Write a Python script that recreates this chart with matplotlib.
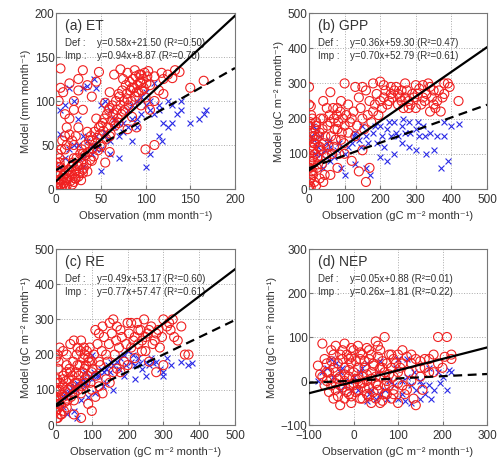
import matplotlib.pyplot as plt
import numpy as np

plt.rcParams['font.family'] = ['Liberation Sans', 'DejaVu Sans']

# ---- (a) ET ----
et_imp_x = [5, 30, 48, 65, 72, 80, 88, 95, 103, 110, 118, 125, 130, 133, 138,
            5, 15, 25, 35, 45, 60, 75, 85, 95, 105, 115, 120, 150, 165,
            20, 40, 55, 70, 80, 90, 100, 110, 120,
            10, 30, 45, 60, 65, 75, 85, 95, 105,
            15, 25, 35, 50, 60, 70, 80, 90,
            10, 20, 30, 40, 50, 60, 100, 110,
            5, 10, 15, 20, 25, 30, 40, 55,
            0, 2, 5, 8, 10, 12, 15, 20, 25, 30, 35, 3, 7, 18, 22, 28, 1, 4]
et_imp_y = [137, 135, 133, 130, 136, 132, 135, 130, 134, 128, 132, 130, 126, 135, 133,
            115, 120, 112, 118, 122, 110, 125, 115, 120, 118, 112, 125, 115, 123,
            100, 105, 98, 108, 102, 110, 104, 100, 108,
            85, 90, 80, 92, 75, 88, 82, 95, 90,
            62, 70, 65, 72, 60, 75, 68, 70,
            45, 50, 40, 55, 48, 42, 45, 50,
            25, 30, 20, 35, 28, 22, 32, 30,
            2, 8, 5, 12, 3, 10, 15, 8, 14, 18, 20, 15, 0, 5, 12, 10, 20, 30]
et_imp_more = [(2, 2), (3, 6), (5, 10), (6, 3), (8, 15), (9, 7), (11, 18), (12, 4), (13, 12), (14, 22),
               (16, 9), (17, 25), (18, 16), (19, 30), (21, 12), (22, 20), (23, 35), (24, 26), (26, 18),
               (27, 40), (28, 30), (29, 45), (31, 24), (32, 38), (33, 50), (34, 28), (36, 42), (37, 55),
               (38, 33), (39, 60), (41, 46), (42, 37), (43, 65), (44, 52), (46, 58), (47, 44), (48, 70),
               (49, 62), (51, 50), (52, 75), (53, 66), (54, 80), (56, 57), (57, 85), (58, 70), (59, 90),
               (61, 63), (62, 78), (63, 95), (64, 85), (66, 72), (67, 100), (68, 90), (69, 80), (71, 105),
               (72, 95), (73, 85), (74, 112), (76, 100), (77, 90), (78, 118), (79, 108), (81, 95), (82, 122),
               (83, 112), (84, 100), (86, 125), (87, 115), (88, 105), (89, 128), (91, 118), (92, 110),
               (93, 130), (94, 122), (96, 112), (97, 125), (98, 115), (99, 132), (101, 120), (102, 128),
               (1, 20), (3, 25), (4, 35), (6, 45), (7, 55), (2, 40), (0, 30), (1, 15), (10, 60), (12, 70),
               (15, 80), (20, 90), (8, 110), (3, 100), (25, 125), (12, 50), (18, 55), (22, 60)]
et_def_x = [5, 5, 10, 15, 30, 35, 42, 45, 20, 25, 50, 55, 60, 65, 70, 80, 85, 90, 95, 100,
            105, 110, 115, 120, 125, 130, 135, 140, 150, 165, 168, 160, 100, 105, 115, 118,
            60, 40, 20, 10, 5, 45, 30, 55, 75, 90, 85, 50, 30, 70, 130, 140, 125, 110]
et_def_y = [62, 90, 95, 115, 115, 117, 125, 115, 100, 80, 95, 100, 90, 80, 75, 90, 95, 100, 105, 110,
            100, 85, 90, 75, 70, 75, 85, 90, 75, 85, 90, 80, 25, 40, 60, 55,
            40, 50, 50, 35, 25, 45, 60, 60, 65, 70, 55, 20, 25, 35, 95, 100, 100, 120]
et_def_more = [(15, 45), (25, 50), (35, 55), (45, 60), (55, 65), (65, 70), (75, 75), (85, 80), (95, 85),
               (105, 90), (115, 95), (70, 60), (80, 70), (90, 80), (100, 95), (60, 55), (50, 45),
               (40, 40), (30, 35), (20, 30)]

# ---- (b) GPP ----
gpp_imp_x = [0, 5, 0, 40, 60, 80, 100, 130, 150, 160, 180, 200, 210, 230, 240, 250, 260, 270, 280,
             290, 300, 310, 320, 340, 350, 360, 380, 390, 395, 420, 370, 340, 300, 260, 220, 200,
             180, 150, 120, 100, 80, 60, 40, 20, 10, 30, 50, 70, 90, 110, 130, 150, 170, 160, 140,
             120, 100, 80, 60, 40, 20, 10, 0, 5, 15, 25, 0, 5, 30, 50, 70, 90, 110, 140, 170, 190,
             210, 230, 250, 280, 320, 350, 380, 330, 270]
gpp_imp_y = [290, 235, 240, 250, 275, 230, 300, 290, 290, 280, 300, 305, 295, 290, 280, 270, 280, 260, 250,
             270, 295, 285, 295, 290, 280, 250, 270, 300, 290, 250, 220, 220, 230, 250, 240, 250,
             220, 200, 200, 180, 170, 190, 200, 180, 150, 120, 100, 120, 140, 160, 150, 110, 60, 20, 50,
             80, 100, 60, 40, 20, 10, 50, 100, 80, 130, 70, 20, 5, 160, 230, 200, 250, 240, 260, 250, 270,
             260, 270, 240, 230, 260, 240, 300, 270, 300]
gpp_imp_more = [(2, 10), (4, 30), (6, 50), (8, 70), (10, 90), (12, 110), (14, 130), (16, 150), (18, 170),
                (20, 190), (3, 60), (5, 120), (7, 160), (9, 200), (11, 40), (13, 80), (15, 20), (17, 100),
                (19, 140), (22, 60), (24, 90), (26, 120), (28, 150), (30, 30), (32, 200), (34, 110),
                (36, 70), (38, 170), (42, 130), (44, 40), (46, 150), (48, 90), (52, 180), (55, 120),
                (58, 210), (62, 150), (65, 100), (68, 230), (72, 170), (75, 140), (78, 210), (82, 190),
                (85, 100), (88, 220), (92, 160), (95, 200), (98, 130), (105, 210), (115, 190), (125, 220),
                (135, 180), (145, 230), (155, 170), (165, 210), (175, 190), (185, 240), (195, 210),
                (205, 230), (215, 280), (225, 250), (235, 260), (245, 290), (255, 260), (265, 230),
                (275, 280), (285, 240), (295, 260), (305, 270), (315, 240), (325, 250), (335, 300),
                (345, 260), (355, 230), (365, 280), (375, 260), (0, 60), (0, 140), (0, 180), (1, 0),
                (3, 190), (6, 210)]
gpp_def_x = [10, 20, 30, 50, 60, 80, 100, 120, 140, 160, 180, 200, 220, 240, 260, 280, 300, 320, 340,
             360, 380, 400, 420, 280, 300, 330, 350, 380, 200, 220, 170, 160, 130, 100, 90, 60, 40, 20,
             250, 270, 310, 150, 190, 210, 240, 370, 390, 260, 230, 130]
gpp_def_y = [180, 170, 150, 130, 120, 110, 100, 130, 140, 150, 160, 180, 170, 190, 180, 190, 170, 180, 160,
             150, 190, 180, 185, 120, 110, 100, 110, 150, 90, 80, 40, 60, 70, 40, 60, 80, 60, 100,
             150, 160, 150, 180, 130, 120, 100, 60, 80, 130, 150, 160]
gpp_def_more = [(5, 150), (15, 140), (25, 120), (35, 100), (45, 110), (55, 140), (70, 90), (85, 130),
                (110, 120), (125, 150), (145, 120), (165, 130), (185, 180), (205, 150), (225, 190),
                (245, 160), (265, 200), (285, 160), (305, 190), (325, 150)]

# ---- (c) RE ----
re_imp_x = [0, 10, 20, 30, 40, 50, 60, 70, 80, 90, 100, 110, 120, 130, 150, 160, 170, 180, 200, 210,
            220, 230, 240, 250, 260, 280, 300, 310, 320, 330, 340, 350, 360, 370, 300, 280, 260, 240,
            220, 200, 180, 160, 140, 120, 100, 80, 60, 40, 20, 10, 0, 5, 15, 30, 50, 70, 90, 110, 130,
            150, 170, 190, 210, 230, 250, 270, 290, 60, 80, 100, 120, 140, 40, 20, 10, 30, 0, 50, 70, 100]
re_imp_y = [190, 220, 210, 200, 230, 240, 220, 240, 200, 190, 180, 270, 260, 280, 290, 300, 280, 270, 290, 290,
            250, 270, 240, 250, 270, 260, 300, 280, 270, 250, 240, 280, 200, 200, 170, 150, 180, 210,
            190, 170, 150, 150, 130, 110, 100, 130, 120, 100, 80, 60, 40, 20, 30, 50, 70, 90, 60, 80, 90,
            120, 160, 180, 220, 230, 210, 230, 220, 170, 160, 150, 180, 200, 150, 130, 100, 170, 80, 30, 20, 40]
re_imp_more = [(2, 20), (4, 45), (6, 70), (8, 95), (10, 120), (12, 30), (14, 55), (16, 85), (18, 110),
               (20, 140), (22, 40), (24, 65), (26, 95), (28, 125), (30, 150), (32, 70), (34, 100), (36, 130),
               (38, 160), (42, 80), (44, 110), (46, 140), (48, 180), (52, 90), (54, 120), (56, 150),
               (58, 200), (62, 100), (64, 140), (66, 170), (68, 210), (72, 110), (74, 150), (76, 190),
               (78, 220), (82, 120), (84, 170), (86, 210), (88, 140), (92, 180), (94, 220), (96, 120),
               (102, 160), (106, 200), (112, 140), (116, 230), (124, 170), (128, 210), (134, 250),
               (144, 180), (148, 230), (156, 260), (164, 200), (168, 240), (176, 220), (184, 250),
               (196, 230), (204, 260), (216, 240), (226, 290), (236, 270), (246, 300), (256, 260),
               (266, 280), (276, 240), (286, 270), (296, 250), (316, 290), (326, 300), (0, 60), (1, 100),
               (3, 130), (5, 160), (7, 180), (0, 120), (4, 200)]
re_def_x = [10, 20, 30, 40, 50, 60, 80, 100, 120, 140, 150, 160, 170, 180, 190, 200, 210, 220, 230, 240,
            250, 260, 270, 280, 290, 300, 310, 320, 350, 370, 380, 220, 250, 300, 160, 130, 110, 90, 70,
            50, 30, 20, 60, 100, 80, 140, 190]
re_def_y = [60, 80, 90, 100, 110, 120, 150, 130, 140, 160, 150, 170, 180, 190, 200, 210, 180, 170, 190, 160,
            180, 170, 175, 180, 160, 150, 190, 170, 180, 170, 175, 130, 140, 140, 100, 110, 90, 80, 70,
            40, 30, 50, 20, 200, 110, 120, 140]
re_def_more = [(15, 70), (25, 85), (35, 95), (45, 105), (55, 100), (65, 115), (75, 130), (85, 120),
               (95, 140), (105, 150), (115, 140), (125, 160), (135, 150), (145, 170), (155, 180),
               (175, 160), (195, 170), (215, 200), (235, 175), (265, 190)]

# ---- (d) NEP ----
nep_imp_x = [-80, -70, -60, -50, -40, -30, -20, -10, 0, 10, 20, 30, 40, 50, 60, 70, 80, 90, 100, 110,
             120, 130, 140, 150, 160, 180, 190, 210, 220, 220, 200, 170, 150, 130, 110, 90, 70, 60, 50,
             40, 30, 20, 10, 0, -10, -20, -30, -40, -50, -60, -70, -40, -30, -20, -10, 0, 10, 20, 30,
             40, 50, 60, 70, 80, 90, 100, 140, 120, 100, -20, -10, 5, 15, -5, 25, 45, 65, 85, -50, -35,
             -5, 35, 55, 75, 105, 125, 160, 180]
nep_imp_y = [35, 85, 40, 70, 80, 60, 85, 50, 70, 80, 60, 75, 60, 90, 70, 100, 60, 50, 60, 70,
             55, 40, 50, 45, 50, 60, 100, 100, 60, 50, 30, 20, 10, 0, -10, -20, -30, -50, -40,
             -50, -30, -40, -20, -10, -30, -40, -55, -20, -10, 0, 10, 20, 10, 0, 10, 20, 30, 10, 0,
             20, 10, 30, 20, -10, 10, -50, -55, -20, 20, 30, -10, 5, -5, 40, 45, 35, 45, 30, 45, -35,
             -50, -15, -20, 0, 30, 20, 30, 20]
nep_imp_more = [(-55, 20), (-45, 30), (-35, 40), (-25, 50), (-15, 60), (-5, 55), (5, 45), (15, 50),
                (25, 30), (35, 50), (45, 40), (55, 55), (65, 30), (75, 40), (85, 60), (95, 40), (-65, -10),
                (-55, -25), (-45, -40), (-35, 5), (-25, -15), (-15, -25), (-5, -35), (5, -25), (15, -40),
                (25, -15), (35, -35), (45, -25), (55, -10), (65, -45), (75, -30), (85, -40), (-60, 20),
                (-50, 5), (-40, -5), (-30, -10), (-20, 15), (-10, 25), (0, -5), (10, 5), (20, -5), (30, 15),
                (40, 5), (50, -5), (60, 10), (70, -10), (80, 15), (90, -30), (-45, 60), (-25, 70), (-5, 75),
                (15, 65), (35, 70), (55, 80), (110, 40), (130, 60), (150, 30), (170, 50), (190, 40),
                (205, 55), (-75, 15), (-65, 50), (115, -30), (135, -40), (155, -20), (100, -5)]
nep_def_x = [-80, -60, -50, -40, -30, -20, -10, 0, 10, 20, 30, 40, 50, 60, 70, 80, 90, 100, 110, 120,
             130, 140, 150, 160, 170, 180, 190, 200, 210, 220, 100, 120, 150, 170, 30, 60, -30, 130, 110]
nep_def_y = [0, 30, 50, 40, 20, -10, 0, 10, -20, 30, 40, -20, -40, -30, -20, 0, -10, -40, 0, 10,
             -50, -20, 0, -30, -10, -20, 20, 10, -20, 20, 50, 50, -40, 30, -45, 45, -20, -10, -30]
nep_def_more = [(-70, 20), (-45, 10), (-25, 30), (-5, -20), (15, 20), (35, -30), (55, 20), (75, -40),
                (95, 30), (115, -45), (135, 20), (155, -10), (175, -40), (195, -5), (215, 25)]

titles = ['(a) ET', '(b) GPP', '(c) RE', '(d) NEP']
def_fit = [(0.58, 21.50, 0.50), (0.36, 59.30, 0.47), (0.49, 53.17, 0.60), (0.05, 0.88, 0.01)]
imp_fit = [(0.94, 8.87, 0.70), (0.70, 52.79, 0.61), (0.77, 57.47, 0.61), (0.26, -1.81, 0.22)]
limits = [(0, 200), (0, 500), (0, 500), (-100, 300)]
ticks = [[0, 50, 100, 150, 200], [0, 100, 200, 300, 400, 500],
         [0, 100, 200, 300, 400, 500], [-100, 0, 100, 200, 300]]
units = ['(mm month\u207b\u00b9)', '(gC m\u207b\u00b2 month\u207b\u00b9)',
         '(gC m\u207b\u00b2 month\u207b\u00b9)', '(gC m\u207b\u00b2 month\u207b\u00b9)']


def merge(xs, ys, more):
    return list(xs) + [p[0] for p in more], list(ys) + [p[1] for p in more]


imp_data = [merge(et_imp_x, et_imp_y, et_imp_more), merge(gpp_imp_x, gpp_imp_y, gpp_imp_more),
            merge(re_imp_x, re_imp_y, re_imp_more), merge(nep_imp_x, nep_imp_y, nep_imp_more)]
def_data = [merge(et_def_x, et_def_y, et_def_more), merge(gpp_def_x, gpp_def_y, gpp_def_more),
            merge(re_def_x, re_def_y, re_def_more), merge(nep_def_x, nep_def_y, nep_def_more)]

fig = plt.figure(figsize=(4.99, 4.62), dpi=100)
# axes boxes in pixels (left, top, right, bottom)
boxes = [(56, 13, 235, 189), (309, 13, 487, 189), (56, 249, 235, 425), (309, 249, 487, 425)]
tc = '#333333'

for i in range(4):
    x0, y0, x1, y1 = boxes[i]
    ax = fig.add_axes([x0 / 499, 1 - y1 / 462, (x1 - x0) / 499, (y1 - y0) / 462])
    lo, hi = limits[i]
    ax.scatter(def_data[i][0], def_data[i][1], marker='x', s=18, c='#2a2ae6', linewidths=0.8, zorder=2)
    ax.scatter(imp_data[i][0], imp_data[i][1], marker='o', s=42, facecolors='none',
               edgecolors='#f02020', linewidths=0.8, zorder=3)
    xs = np.array([lo, hi])
    a, b, r = imp_fit[i]
    ax.plot(xs, a * xs + b, color='black', lw=1.6, zorder=4)
    a2, b2, r2 = def_fit[i]
    ax.plot(xs, a2 * xs + b2, color='black', lw=1.6, ls=(0, (4, 2.5)), zorder=4)
    ax.set_xlim(lo, hi)
    ax.set_ylim(lo, hi)
    ax.set_xticks(ticks[i])
    ax.set_yticks(ticks[i])
    ax.grid(True, ls=':', color='#aaaaaa', lw=0.7)
    ax.set_axisbelow(True)
    for s in ax.spines.values():
        s.set_color('#777777')
        s.set_linewidth(0.8)
    ax.tick_params(direction='in', length=3, labelsize=8.5, colors='#777777', labelcolor=tc)
    ax.tick_params(axis='x', pad=3.5)
    ax.tick_params(axis='y', pad=1)
    ax.set_xlabel('Observation ' + units[i], fontsize=8, color=tc, labelpad=4)
    ax.set_ylabel('Model ' + units[i], fontsize=8, color=tc, labelpad=3)
    ax.text(0.05, 0.925, titles[i], transform=ax.transAxes, fontsize=10, color=tc, va='center')
    sign = '+' if b2 >= 0 else '\u2212'
    ax.text(0.05, 0.83, 'Def :', transform=ax.transAxes, fontsize=7, color=tc, va='center')
    ax.text(0.23, 0.83, 'y=%.2fx%s%.2f (R\u00b2=%.2f)' % (a2, sign, abs(b2), r2),
            transform=ax.transAxes, fontsize=7, color=tc, va='center')
    sign = '+' if b >= 0 else '\u2212'
    ax.text(0.05, 0.755, 'Imp :', transform=ax.transAxes, fontsize=7, color=tc, va='center')
    ax.text(0.23, 0.755, 'y=%.2fx%s%.2f (R\u00b2=%.2f)' % (a, sign, abs(b), r),
            transform=ax.transAxes, fontsize=7, color=tc, va='center')

fig.savefig('out.png', dpi=100)
